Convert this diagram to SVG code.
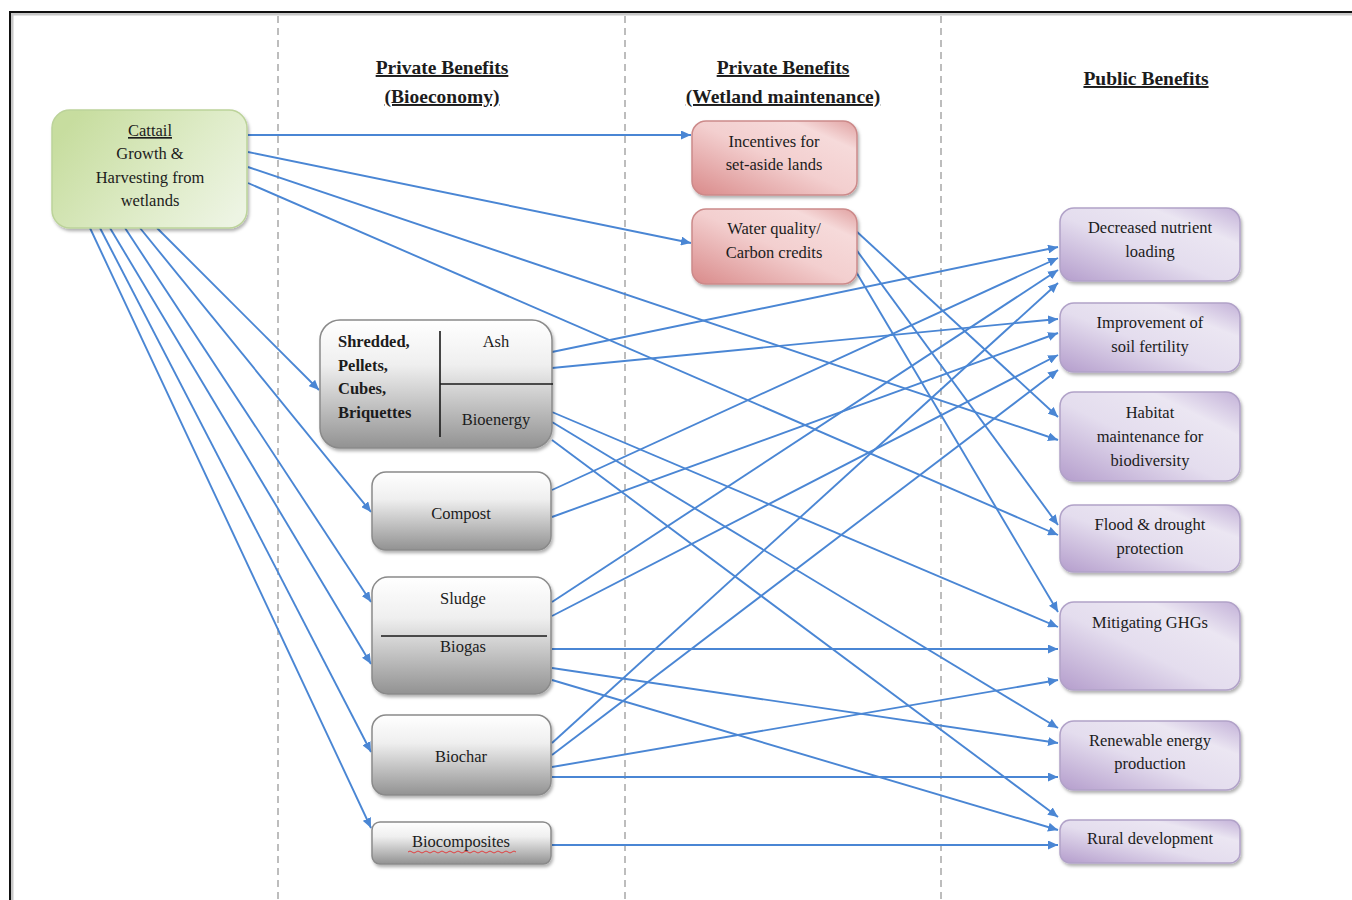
<svg xmlns="http://www.w3.org/2000/svg" width="1352" height="900" viewBox="0 0 1352 900">
  <defs>
    <style>
      .lbl { font-family: "Liberation Serif", "Times New Roman", serif; font-size: 16.5px; fill: #1c1c1c; text-anchor: middle; }
      .lbl.left { text-anchor: start; }
      .bold { font-weight: bold; }
      .head { font-family: "Liberation Serif", "Times New Roman", serif; font-size: 19.5px; font-weight: bold; fill: #1c1c1c; text-anchor: middle; text-decoration: underline; }
      .lane { stroke: #bdbdbd; stroke-width: 2; stroke-dasharray: 7 5; fill: none; }
      .conn path { fill: none; stroke: #4a86d4; stroke-width: 1.9; marker-end: url(#arrow); }
      .grey { fill: url(#gGrey); stroke: #8a8a8a; stroke-width: 1.5; filter: url(#shadow); }
      .pink { fill: url(#gPink); stroke: #cc8a8a; stroke-width: 1.5; filter: url(#shadow); }
      .purple { fill: url(#gPurple); stroke: #b1a2c8; stroke-width: 1.5; filter: url(#shadow); }
      .green { fill: url(#gGreen); stroke: #bcd39a; stroke-width: 1.5; filter: url(#shadow); }
      .div { stroke: #1a1a1a; stroke-width: 1.6; }
    </style>
    <linearGradient id="gGrey" x1="0" y1="0" x2="0" y2="1">
      <stop offset="0" stop-color="#ffffff"/>
      <stop offset="0.35" stop-color="#efefef"/>
      <stop offset="1" stop-color="#929292"/>
    </linearGradient>
    <linearGradient id="gPink" x1="0" y1="1" x2="1" y2="0">
      <stop offset="0" stop-color="#d98a8a"/>
      <stop offset="0.5" stop-color="#f3cfcf"/>
      <stop offset="0.8" stop-color="#f6dada"/>
      <stop offset="1" stop-color="#e0a0a0"/>
    </linearGradient>
    <linearGradient id="gPurple" x1="0" y1="1" x2="1" y2="0">
      <stop offset="0" stop-color="#b49dcc"/>
      <stop offset="0.45" stop-color="#e4ddee"/>
      <stop offset="0.75" stop-color="#ebe6f2"/>
      <stop offset="1" stop-color="#c3b1d8"/>
    </linearGradient>
    <linearGradient id="gGreen" x1="0" y1="0.3" x2="1" y2="0.8">
      <stop offset="0" stop-color="#c7dd9f"/>
      <stop offset="0.6" stop-color="#dfecc9"/>
      <stop offset="1" stop-color="#edf4e3"/>
    </linearGradient>
    <filter id="shadow" x="-10%" y="-10%" width="125%" height="130%">
      <feDropShadow dx="1.5" dy="2.5" stdDeviation="1.5" flood-color="#000" flood-opacity="0.3"/>
    </filter>
    <marker id="arrow" markerUnits="userSpaceOnUse" markerWidth="11" markerHeight="9" refX="10" refY="4.5" orient="auto">
      <path d="M0,0 L10,4.5 L0,9 z" fill="#4a86d4"/>
    </marker>
  </defs>

  <rect width="1352" height="900" fill="#ffffff"/>

  <!-- page frame -->
  <path d="M12,900 V14 H1352" fill="none" stroke="#c8c8c8" stroke-width="3"/>
  <path d="M10,900 V12 H1352" fill="none" stroke="#111111" stroke-width="2"/>

  <!-- column separators -->
  <line class="lane" x1="278" y1="16" x2="278" y2="900"/>
  <line class="lane" x1="625" y1="16" x2="625" y2="900"/>
  <line class="lane" x1="941" y1="16" x2="941" y2="900"/>

  <!-- column headings -->
  <g id="headings">
    <text class="head" x="442" y="74">Private Benefits</text>
    <text class="head" x="442" y="103">(Bioeconomy)</text>
    <text class="head" x="783" y="74">Private Benefits</text>
    <text class="head" x="783" y="103">(Wetland maintenance)</text>
    <text class="head" x="1146" y="85">Public Benefits</text>
  </g>

  <!-- connectors -->
  <g id="connectors" class="conn">
    <path d="M248,135 L691,135"/>
    <path d="M248,152 L691,243"/>
    <path d="M248,167 L1058,440"/>
    <path d="M248,183 L1058,535"/>
    <path d="M157,228 L319,390"/>
    <path d="M140,228 L371,512"/>
    <path d="M125,228 L371,602"/>
    <path d="M110,228 L371,664"/>
    <path d="M100,228 L371,752"/>
    <path d="M90,228 L371,828"/>
    <path d="M552,352 L1058,247"/>
    <path d="M552,368 L1058,319"/>
    <path d="M552,412 L1058,627"/>
    <path d="M552,422 L1058,728"/>
    <path d="M552,440 L1058,817"/>
    <path d="M855,230 L1058,417"/>
    <path d="M855,248 L1058,525"/>
    <path d="M855,270 L1058,612"/>
    <path d="M552,490 L1058,258"/>
    <path d="M552,517 L1058,333"/>
    <path d="M552,602 L1058,270"/>
    <path d="M552,616 L1058,355"/>
    <path d="M552,649 L1058,649"/>
    <path d="M552,668 L1058,743"/>
    <path d="M552,680 L1058,830"/>
    <path d="M552,743 L1058,283"/>
    <path d="M552,755 L1058,370"/>
    <path d="M552,767 L1058,680"/>
    <path d="M552,777 L1058,777"/>
    <path d="M552,845 L1058,845"/>
  </g>

  <!-- source -->
  <g id="cattail">
    <rect class="green" x="52" y="110" width="195" height="118" rx="18"/>
    <text class="lbl" x="150" y="136" text-decoration="underline">Cattail</text>
    <text class="lbl" x="150" y="159">Growth &amp;</text>
    <text class="lbl" x="150" y="183">Harvesting from</text>
    <text class="lbl" x="150" y="206">wetlands</text>
  </g>

  <!-- bioeconomy products -->
  <g id="shredded">
    <rect class="grey" x="320" y="320" width="232" height="128" rx="20"/>
    <line class="div" x1="440" y1="331" x2="440" y2="437"/>
    <line class="div" x1="440" y1="384" x2="553" y2="384"/>
    <text class="lbl left bold" x="338" y="347">Shredded,</text>
    <text class="lbl left bold" x="338" y="371">Pellets,</text>
    <text class="lbl left bold" x="338" y="394">Cubes,</text>
    <text class="lbl left bold" x="338" y="418">Briquettes</text>
    <text class="lbl" x="496" y="347">Ash</text>
    <text class="lbl" x="496" y="425">Bioenergy</text>
  </g>
  <g id="compost">
    <rect class="grey" x="372" y="472" width="179" height="78" rx="14"/>
    <text class="lbl" x="461" y="519">Compost</text>
  </g>
  <g id="sludge-biogas">
    <rect class="grey" x="372" y="577" width="179" height="117" rx="16"/>
    <line class="div" x1="381" y1="636" x2="547" y2="636"/>
    <text class="lbl" x="463" y="604">Sludge</text>
    <text class="lbl" x="463" y="652">Biogas</text>
  </g>
  <g id="biochar">
    <rect class="grey" x="372" y="715" width="179" height="80" rx="14"/>
    <text class="lbl" x="461" y="762">Biochar</text>
  </g>
  <g id="biocomposites">
    <rect class="grey" x="372" y="822" width="179" height="42" rx="8"/>
    <text class="lbl" x="461" y="847">Biocomposites</text>
    <path d="M408,852 q2,-2 4,0 t4,0 t4,0 t4,0 t4,0 t4,0 t4,0 t4,0 t4,0 t4,0 t4,0 t4,0 t4,0 t4,0 t4,0 t4,0 t4,0 t4,0 t4,0 t4,0 t4,0 t4,0 t4,0 t4,0 t4,0 t4,0 t4,0" fill="none" stroke="#e04040" stroke-width="1"/>
  </g>

  <!-- wetland maintenance -->
  <g id="incentives">
    <rect class="pink" x="692" y="121" width="165" height="74" rx="14"/>
    <text class="lbl" x="774" y="147">Incentives for</text>
    <text class="lbl" x="774" y="170">set-aside lands</text>
  </g>
  <g id="water-quality">
    <rect class="pink" x="692" y="209" width="165" height="75" rx="14"/>
    <text class="lbl" x="774" y="234">Water quality/</text>
    <text class="lbl" x="774" y="258">Carbon credits</text>
  </g>

  <!-- public benefits -->
  <g id="nutrient">
    <rect class="purple" x="1060" y="208" width="180" height="73" rx="14"/>
    <text class="lbl" x="1150" y="233">Decreased nutrient</text>
    <text class="lbl" x="1150" y="257">loading</text>
  </g>
  <g id="soil">
    <rect class="purple" x="1060" y="303" width="180" height="69" rx="14"/>
    <text class="lbl" x="1150" y="328">Improvement of</text>
    <text class="lbl" x="1150" y="352">soil fertility</text>
  </g>
  <g id="habitat">
    <rect class="purple" x="1060" y="392" width="180" height="89" rx="14"/>
    <text class="lbl" x="1150" y="418">Habitat</text>
    <text class="lbl" x="1150" y="442">maintenance for</text>
    <text class="lbl" x="1150" y="466">biodiversity</text>
  </g>
  <g id="flood">
    <rect class="purple" x="1060" y="505" width="180" height="67" rx="14"/>
    <text class="lbl" x="1150" y="530">Flood &amp; drought</text>
    <text class="lbl" x="1150" y="554">protection</text>
  </g>
  <g id="ghg">
    <rect class="purple" x="1060" y="602" width="180" height="88" rx="14"/>
    <text class="lbl" x="1150" y="628">Mitigating GHGs</text>
  </g>
  <g id="renewable">
    <rect class="purple" x="1060" y="721" width="180" height="69" rx="14"/>
    <text class="lbl" x="1150" y="746">Renewable energy</text>
    <text class="lbl" x="1150" y="769">production</text>
  </g>
  <g id="rural">
    <rect class="purple" x="1060" y="820" width="180" height="43" rx="10"/>
    <text class="lbl" x="1150" y="844">Rural development</text>
  </g>
</svg>
